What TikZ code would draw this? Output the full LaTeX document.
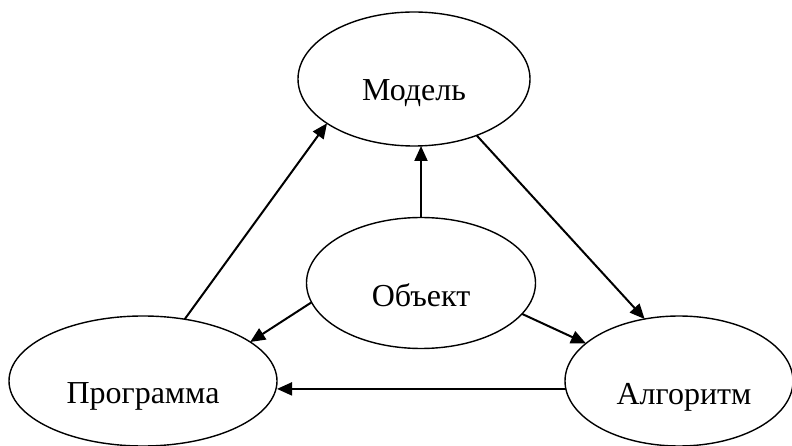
\documentclass[tikz,border=0pt]{standalone}
\usepackage{fontspec}
\setmainfont{Liberation Serif}
\usetikzlibrary{shapes.geometric,arrows.meta}

\tikzset{
  oval/.style={ellipse, draw, line width=1.4bp, inner sep=0pt, outer sep=0pt},
  word/.style={anchor=base, inner sep=0pt, font=\fontsize{32bp}{37bp}\selectfont},
  arr/.style={line width=2bp, -{Triangle[length=15bp,width=13bp]}}
}

\begin{document}
\begin{tikzpicture}[x=1bp,y=-1bp]
  \useasboundingbox (0,0) rectangle (792,446);

  % the four ellipses
  \node[oval, minimum width=232bp, minimum height=134bp] (model) at (414,79)  {};
  \node[oval, minimum width=229bp, minimum height=131bp] (obj)   at (421,283) {};
  \node[oval, minimum width=268bp, minimum height=130bp] (prog)  at (143,381) {};
  \node[oval, minimum width=228bp, minimum height=130bp] (alg)   at (679,381) {};

  % their labels
  \node[word] (modelt) at (414,101) {Модель};
  \node[word] (objt)   at (421,307) {Объект};
  \node[word] (progt)  at (143,403) {Программа};
  \node[word] (algt)   at (684,404) {Алгоритм};

  % connections
  \draw[arr] (obj.north) -- (obj.north |- model.south);
  \draw[arr] (prog.56.7) -- (model.207.9);
  \draw[arr] (model.-42.5) -- (alg.119.5);
  \draw[arr] (obj.-17.3) -- (alg.158.5);
  \draw[arr] (obj.190.5) -- (prog.20.1);
  \draw[arr] (alg.184) -- (alg.184 -| prog.east);
\end{tikzpicture}
\end{document}
